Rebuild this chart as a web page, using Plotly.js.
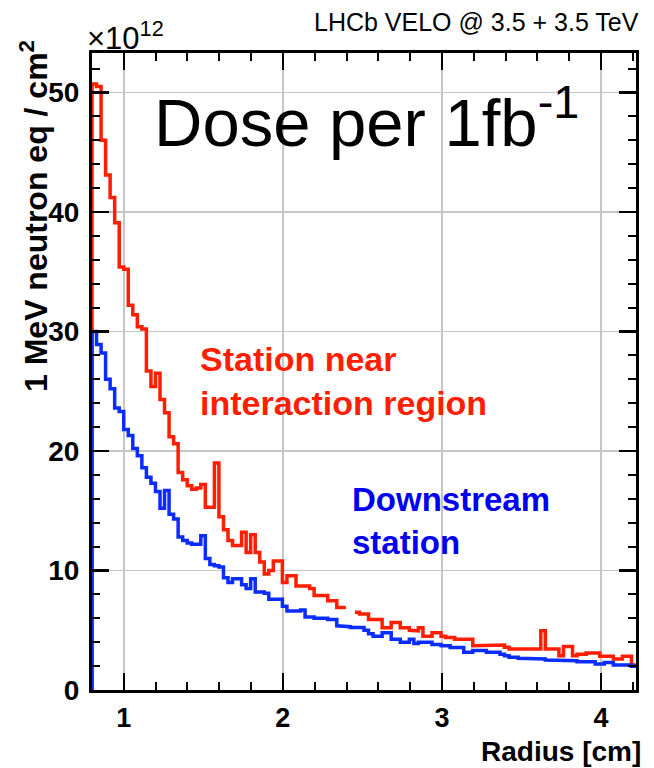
<!DOCTYPE html>
<html>
<head>
<meta charset="utf-8">
<script src="https://cdn.plot.ly/plotly-3.0.1.min.js"></script>
<style>
  html, body { margin: 0; padding: 0; background: #fff; }
  #chart { width: 654px; height: 768px; }
</style>
</head>
<body>
<div id="chart"></div>
<script>
// Histogram binning: 120 bins in radius [cm]
const binLow = 0.8;
const binWidth = 0.0285;

// Fluence per bin, units of 1e12 (1 MeV n_eq / cm^2), station near the interaction region
const nearStation = [
  50.7, 50.5, 46.0, 43.1, 41.2, 39.1, 35.4, 35.2, 32.2, 31.4,
  30.4, 30.2, 26.7, 25.4, 26.5, 24.3, 23.2, 21.2, 20.6, 18.2,
  17.6, 17.1, 16.8, 16.9, 17.2, 15.3, 15.3, 19.0, 14.5, 13.4,
  12.5, 12.1, 12.1, 13.2, 11.5, 13.0, 11.5, 10.7, 9.7, 10.0,
  10.8, 10.8, 9.0, 9.55, 9.55, 8.7, 8.7, 8.7, 8.5, 7.9,
  7.9, 7.9, 7.46, 7.46, 6.9, 6.9, null, null, 6.5, 6.35,
  6.35, 5.9, 5.9, 5.9, 5.2, 5.2, 5.65, 5.65, 5.2, 5.2,
  5.0, 4.95, 5.2, 4.5, 4.5, 4.8, 4.8, 4.5, 4.4, 4.4,
  4.25, 4.25, 4.25, 4.25, 3.7, 3.7, 3.7, 3.7, 3.76, 3.76,
  3.76, 3.57, 3.43, 3.43, 3.43, 3.43, 3.43, 3.43, 3.43, 4.95,
  3.43, 3.43, 3.43, 2.87, 3.65, 3.65, 2.87, 3.0, 3.0, 3.09,
  3.09, 3.09, 2.82, 2.82, 2.82, 2.59, 2.59, 2.82, 2.82, 2.09
];

// Fluence per bin, downstream station
const downstreamStation = [
  30.0, 28.9, 28.2, 26.0, 25.2, 23.6, 23.3, 21.8, 21.3, 20.2,
  19.6, 18.6, 17.8, 17.3, 16.6, 15.2, 16.7, 14.7, 14.3, 12.8,
  12.5, 12.3, 12.2, 12.2, 12.9, 11.0, 10.5, 10.4, 10.3, 9.4,
  9.0, 9.3, 9.3, 8.8, 8.5, 9.3, 8.2, 8.2, 8.1, 7.6,
  7.6, 7.6, 7.0, 6.6, 6.6, 6.6, 6.7, 6.1, 6.1, 6.0,
  6.0, 6.0, 5.9, 5.9, 5.37, 5.37, 5.3, 5.24, 5.24, 5.24,
  5.0, 4.7, 4.5, 4.5, 4.8, 4.8, 4.25, 4.25, 4.0, 4.0,
  4.25, 3.9, 4.0, 4.0, 4.0, 3.8, 3.8, 3.7, 3.7, 3.55,
  3.55, 3.55, 3.15, 3.15, 3.3, 3.3, 3.3, 3.15, 3.15, 3.15,
  3.0, 2.87, 2.73, 2.73, 2.65, 2.65, 2.65, 2.65, 2.65, 2.6,
  2.5, 2.45, 2.45, 2.45, 2.45, 2.45, 2.45, 2.37, 2.37, 2.37,
  2.37, 2.17, 2.17, 2.3, 2.3, 2.09, 2.09, 2.09, 2.09, 1.98
];

const xTickVals = [1, 2, 3, 4];
const xTickText = ['1', '2', '3', '4'];
const yTickVals = [0, 10, 20, 30, 40, 50];
const yTickText = ['0', '10', '20', '30', '40', '50'];

// Turn bin contents into a histogram outline (rises from zero at the first edge,
// breaks wherever a bin has no entry)
function histOutline(vals) {
  const xs = [binLow], ys = [0];
  vals.forEach((v, k) => {
    const lo = binLow + k * binWidth, hi = lo + binWidth;
    if (v === null) { xs.push(null); ys.push(null); return; }
    xs.push(lo); ys.push(v);
    xs.push(hi); ys.push(v);
  });
  return { x: xs, y: ys };
}

const red = '#ff1e00';
const blue = '#0a2cff';

const nearPath = histOutline(nearStation);
const downPath = histOutline(downstreamStation);

const traces = [
  { type: 'scatter', mode: 'lines', x: nearPath.x, y: nearPath.y,
    line: { color: red, width: 3.5 }, connectgaps: false, hoverinfo: 'skip' },
  { type: 'scatter', mode: 'lines', x: downPath.x, y: downPath.y,
    line: { color: blue, width: 3.5 }, connectgaps: false, hoverinfo: 'skip' }
];

// plot frame in pixels
const L = 92, R = 636, T = 53, B = 690;
const px = v => (v - L) / (R - L);
const py = v => (B - v) / (B - T);

const FONT = 'Liberation Sans, Arial, Helvetica, sans-serif';

const axisCommon = {
  ticks: 'inside', ticklen: 17, tickwidth: 2.5, tickcolor: '#000',
  showline: true, linewidth: 3, linecolor: '#000', mirror: 'ticks',
  showgrid: true, gridcolor: '#c6c6c6', gridwidth: 1.5, zeroline: false,
  tickfont: { family: FONT, size: 28, color: '#000', weight: 'bold' },
  fixedrange: true
};

const layout = {
  width: 654, height: 768,
  margin: { l: L, r: 654 - R, t: T, b: 768 - B, pad: 0 },
  paper_bgcolor: '#fff', plot_bgcolor: '#fff',
  showlegend: false,
  xaxis: Object.assign({}, axisCommon, {
    range: [0.8, 4.22],
    tickmode: 'array', tickvals: xTickVals, ticktext: xTickText,
    tickfont: { family: FONT, size: 27, color: '#000', weight: 'bold' },
    ticklabelstandoff: 2,
    minor: { dtick: 0.2, tick0: 0, ticks: 'inside', ticklen: 8, tickwidth: 2, tickcolor: '#000', showgrid: false }
  }),
  yaxis: Object.assign({}, axisCommon, {
    range: [0, 53.3],
    tickmode: 'array', tickvals: yTickVals, ticktext: yTickText,
    ticklabelstandoff: 4,
    minor: { dtick: 2, tick0: 0, ticks: 'inside', ticklen: 8, tickwidth: 2, tickcolor: '#000', showgrid: false }
  }),
  annotations: [
    { xref: 'paper', yref: 'paper', x: px(641), y: py(22), xanchor: 'right', yanchor: 'middle',
      text: 'LHCb VELO @ 3.5 + 3.5 TeV', showarrow: false,
      font: { family: FONT, size: 25, color: '#000' } },
    { xref: 'paper', yref: 'paper', x: px(85), y: py(36), xanchor: 'left', yanchor: 'middle',
      text: '×10<sup>12</sup>', showarrow: false,
      font: { family: FONT, size: 31, color: '#000' } },
    { xref: 'paper', yref: 'paper', x: px(152), y: py(118), xanchor: 'left', yanchor: 'middle',
      text: 'Dose per 1fb<sup>-1</sup>', showarrow: false,
      font: { family: FONT, size: 67, color: '#000' } },
    { xref: 'paper', yref: 'paper', x: px(198), y: py(381), xanchor: 'left', yanchor: 'middle',
      text: 'Station near<br>interaction region', showarrow: false, align: 'left',
      font: { family: FONT, size: 34, color: red, weight: 'bold' } },
    { xref: 'paper', yref: 'paper', x: px(350), y: py(521), xanchor: 'left', yanchor: 'middle',
      text: 'Downstream<br>station', showarrow: false, align: 'left',
      font: { family: FONT, size: 33, color: '#0000f0', weight: 'bold' } },
    { xref: 'paper', yref: 'paper', x: px(34), y: py(38), xanchor: 'center', yanchor: 'top',
      text: '1 MeV neutron eq / cm<sup>2</sup>', showarrow: false, textangle: -90,
      font: { family: FONT, size: 32, color: '#000', weight: 'bold' } },
    { xref: 'paper', yref: 'paper', x: px(642), y: py(768), xanchor: 'right', yanchor: 'bottom',
      text: 'Radius [cm]', showarrow: false, borderpad: 0,
      font: { family: FONT, size: 28, color: '#000', weight: 'bold' } }
  ]
};

Plotly.newPlot('chart', traces, layout, { staticPlot: true, displayModeBar: false });
</script>
</body>
</html>
